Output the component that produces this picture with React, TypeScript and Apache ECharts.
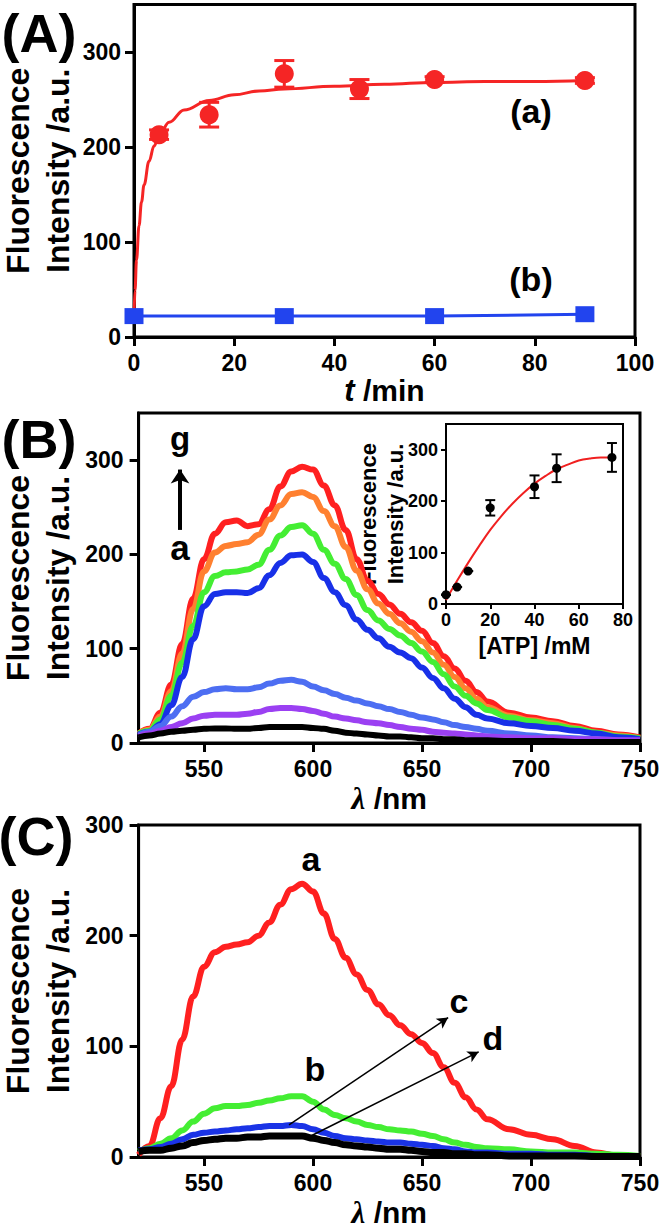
import React, { useEffect, useRef } from "react";
import * as echarts from "echarts";

// ---------- Panel A: kinetics ----------
const timeA = [5, 15, 30, 45, 60, 90];
const intensityA = [213, 234, 277, 261, 271, 270];
const errorA = [5, 13, 14, 10, 3, 3];
const timeB = [0, 30, 60, 90];
const intensityB = [22, 22, 22, 24];
const fitTime = [0, 0.2, 0.5, 1, 1.5, 2, 3, 4, 5, 7, 10, 15, 20, 25, 30, 40, 50, 60, 70, 80, 90];
const fitIntensity = [22, 49, 81, 117, 142, 160, 185, 201, 212, 226, 239, 249, 255, 259, 261, 264, 266, 268, 269, 269, 270];
const ticksY = [0, 100, 200, 300];

// ---------- Panel B / C: spectra ----------
const wavelengths = [520, 525, 530, 535, 540, 545, 550, 555, 560, 565, 570, 575, 580, 585, 590, 595, 600, 605, 610, 615, 620, 625, 630, 635, 640, 645, 650, 655, 660, 665, 670, 675, 680, 690, 700, 710, 720, 730, 740, 750];
const ticksLambda = [550, 600, 650, 700, 750];

const specB_g = [10, 15, 32, 62, 105, 153, 195, 222, 234, 236, 230, 232, 248, 272, 288, 293, 290, 273, 252, 226, 195, 172, 158, 147, 137, 128, 119, 106, 92, 79, 66, 54, 44, 32, 27, 23, 18, 13, 9, 6];
const specB_f = [10, 14, 28, 55, 95, 142, 182, 202, 209, 211, 213, 221, 237, 252, 264, 266, 261, 246, 230, 208, 183, 163, 148, 137, 127, 118, 108, 96, 83, 70, 58, 47, 38, 29, 24, 21, 16, 11, 8, 5];
const specB_e = [10, 13, 25, 50, 85, 124, 160, 177, 181, 182, 184, 189, 205, 220, 229, 231, 222, 205, 190, 174, 157, 141, 130, 121, 114, 106, 97, 86, 73, 60, 50, 42, 35, 27, 23, 19, 15, 11, 7, 5];
const specB_d = [9, 12, 20, 40, 70, 110, 145, 158, 160, 160, 159, 164, 178, 191, 199, 200, 192, 175, 160, 146, 131, 120, 111, 102, 96, 90, 80, 69, 58, 47, 38, 30, 26, 21, 18, 16, 13, 10, 6, 4];
const specB_c = [8, 12, 18, 28, 39, 49, 54, 57, 58, 57, 57, 59, 63, 66, 67, 65, 60, 56, 52, 48, 45, 42, 39, 36, 33, 30, 27, 25, 22, 19, 17, 15, 13, 10, 8, 6, 5, 4, 3, 2];
const specB_b = [7, 10, 13, 17, 21, 26, 29, 30, 30, 30, 31, 33, 36, 37, 37, 36, 34, 31, 28, 26, 24, 22, 21, 19, 17, 15, 14, 12, 11, 10, 9, 8, 7, 6, 5, 5, 4, 4, 3, 3];
const specB_a = [6, 8, 10, 12, 13, 14, 15, 15.5, 15.5, 15, 15, 16, 17, 17, 17, 17, 16, 15, 13, 11, 10, 9, 8, 7, 7, 6, 5, 5, 4, 4, 3, 3, 3, 2, 2, 2, 1, 1, 1, 1];

const specC_a = [2, 10, 35, 64, 106, 145, 172, 185, 190, 192, 194, 200, 212, 228, 242, 247, 240, 220, 197, 180, 165, 151, 138, 128, 119, 111, 103, 94, 81, 67, 54, 43, 34, 25, 20, 16, 10, 4, 1, 0.5];
const specC_b = [5, 8, 12, 17, 24, 32, 39, 44, 46, 46, 47, 49, 51, 53, 55, 55, 50, 43, 38, 35, 32, 29, 27, 25, 24, 23, 21, 19, 16, 13, 11, 9, 8, 7, 5, 4, 4, 3, 2, 1];
const specC_c = [6, 7, 9, 12, 16, 20, 22, 23, 24, 25, 26, 27, 28, 28, 29, 28, 25, 22, 19, 17, 16, 15, 14, 13, 13, 12, 11, 10, 8, 7, 5, 4, 4, 3, 3, 2, 2, 1, 1, 1];
const specC_d = [5, 6, 6, 8, 10, 13, 15, 16, 17, 17, 18, 18, 19, 19, 19, 19, 17, 15, 13, 11, 10, 9, 8, 7, 7, 6, 5, 4, 4, 3, 3, 2, 2, 1, 1, 1, 1, 0.5, 0.5, 0.5];

// ---------- Inset: ATP ----------
const atpConc = [0, 5, 10, 20, 40, 50, 75];
const atpIntensity = [18, 33, 64, 187, 228, 264, 285];
const atpError = [0, 0, 0, 15, 22, 27, 28];
const atpFitX = [0, 5, 10, 15, 20, 25, 30, 35, 40, 45, 50, 55, 60, 65, 70, 75];
const atpFitY = [8, 45, 80, 113, 144, 171, 195, 216, 234, 249, 262, 271, 279, 283, 285, 285];

const FONT = '"Liberation Sans", Arial, sans-serif';
const YTITLE = "Fluorescence\nIntensity /a.u.";

const pairs = (xs: number[], ys: number[]) => xs.map((x, i) => [x, ys[i]]);

function errorBars(xIdx: number, xs: number[], ys: number[], errs: number[], color: string, cap: number, width: number) {
  return {
    type: "custom",
    xAxisIndex: xIdx,
    yAxisIndex: xIdx,
    z: 3,
    data: xs.map((x, i) => [x, ys[i] - errs[i], ys[i] + errs[i]]),
    encode: { x: 0, y: [1, 2] },
    renderItem: (params: any, api: any) => {
      const lo = api.coord([api.value(0), api.value(1)]);
      const hi = api.coord([api.value(0), api.value(2)]);
      const st = { stroke: color, lineWidth: width };
      return {
        type: "group",
        children: [
          { type: "line", shape: { x1: lo[0], y1: lo[1], x2: hi[0], y2: hi[1] }, style: st },
          { type: "line", shape: { x1: lo[0] - cap, y1: lo[1], x2: lo[0] + cap, y2: lo[1] }, style: st },
          { type: "line", shape: { x1: hi[0] - cap, y1: hi[1], x2: hi[0] + cap, y2: hi[1] }, style: st },
        ],
      };
    },
  };
}

function valueAxis(gridIndex: number, min: number, max: number, opts: any) {
  const fs = opts.fontSize ?? 23;
  const lw = opts.lineWidth ?? 3;
  return {
    type: "value",
    gridIndex,
    min,
    max,
    interval: opts.interval,
    splitLine: { show: false },
    axisLine: { show: true, onZero: false, lineStyle: { color: "#000", width: lw } },
    axisTick: { show: true, inside: false, length: opts.tickLen ?? 9, lineStyle: { color: "#000", width: lw }, customValues: opts.ticks },
    axisLabel: {
      show: true,
      color: "#000",
      fontFamily: FONT,
      fontWeight: "bold",
      fontSize: fs,
      margin: opts.margin ?? 14,
      customValues: opts.ticks,
    },
    name: opts.name,
    nameLocation: "middle",
    nameGap: opts.nameGap,
    nameRotate: opts.nameRotate,
    nameMoveOverlap: false,
    nameTextStyle: opts.nameTextStyle,
  };
}

const yNameStyle = (fs: number, lh: number) => ({
  fontFamily: FONT,
  fontWeight: "bold",
  fontSize: fs,
  lineHeight: lh,
  color: "#000",
  align: "center",
});

const xNameStyle = (italic: string) => ({
  fontFamily: FONT,
  fontWeight: "bold",
  fontSize: 30,
  color: "#000",
  rich: {
    i: { fontFamily: italic, fontStyle: "italic", fontWeight: "bold", fontSize: 31, color: "#000" },
  },
});

function spectrum(xIdx: number, ys: number[], color: string, width: number, extra: any = {}) {
  return {
    type: "line",
    xAxisIndex: xIdx,
    yAxisIndex: xIdx,
    data: pairs(wavelengths, ys),
    showSymbol: false,
    smooth: 0.4,
    smoothMonotone: "x",
    lineStyle: { color, width },
    itemStyle: { color },
    ...extra,
  };
}

const arrowLine = (from: number[], to: number[], width: number, size: any) => ({
  silent: true,
  symbol: ["none", "arrow"],
  symbolSize: size,
  label: { show: false },
  lineStyle: { color: "#000", width, type: "solid" },
  itemStyle: { color: "#000" },
  emphasis: { disabled: true },
  data: [[{ coord: from }, { coord: to }]],
});

const text = (t: string, x: number, y: number, fs: number) => ({
  type: "text",
  x,
  y,
  z: 100,
  style: { text: t, fontFamily: FONT, fontWeight: "bold", fontSize: fs, fill: "#000", align: "center", verticalAlign: "middle" },
});

export default function App() {
  const ref = useRef<HTMLDivElement>(null);
  useEffect(() => {
    if (!ref.current) return;
    const chart = echarts.init(ref.current, undefined, { renderer: "svg" });
    const gridStyle = {
      show: true,
      borderColor: "#000",
      borderWidth: 3,
      backgroundColor: "transparent",
      containLabel: false,
      outerBoundsMode: "none",
    };
    const option: any = {
      animation: false,
      backgroundColor: "#fff",
      grid: [
        { ...gridStyle, left: 134, top: 4.5, width: 501, height: 332.5 },
        { ...gridStyle, left: 138.6, top: 413, width: 501.4, height: 330 },
        { ...gridStyle, borderWidth: 2, left: 446, top: 424, width: 177, height: 180 },
        { ...gridStyle, left: 138.6, top: 825, width: 501.4, height: 332 },
      ],
      xAxis: [
        valueAxis(0, 0, 100, { interval: 20, name: "{i|t} /min", nameGap: 38, nameTextStyle: xNameStyle(FONT) }),
        valueAxis(1, 520, 750, { ticks: ticksLambda, name: "{i|λ} /nm", nameGap: 40, nameTextStyle: xNameStyle('"Liberation Serif", serif') }),
        valueAxis(2, 0, 80, { interval: 20, fontSize: 18, lineWidth: 2, tickLen: 5, margin: 7, name: "[ATP] /mM", nameGap: 30, nameTextStyle: { fontFamily: FONT, fontWeight: "bold", fontSize: 23, color: "#000" } }),
        valueAxis(3, 520, 750, { ticks: ticksLambda, name: "{i|λ} /nm", nameGap: 40, nameTextStyle: xNameStyle('"Liberation Serif", serif') }),
      ],
      yAxis: [
        valueAxis(0, 0, 350, { ticks: ticksY, margin: 13, name: YTITLE, nameRotate: 90, nameGap: 56, nameTextStyle: yNameStyle(32, 40) }),
        valueAxis(1, 0, 350, { ticks: ticksY, margin: 15, name: YTITLE, nameRotate: 90, nameGap: 61, nameTextStyle: yNameStyle(32, 40) }),
        valueAxis(2, 0, 350, { ticks: ticksY, fontSize: 18, lineWidth: 2, tickLen: 5, margin: 8, name: YTITLE, nameRotate: 90, nameGap: 37, nameTextStyle: yNameStyle(22, 27) }),
        valueAxis(3, 0, 300, { interval: 100, margin: 15, name: YTITLE, nameRotate: 90, nameGap: 61, nameTextStyle: yNameStyle(32, 40) }),
      ],
      series: [
        // Panel A
        {
          type: "line",
          xAxisIndex: 0,
          yAxisIndex: 0,
          data: pairs(fitTime, fitIntensity),
          showSymbol: false,
          smooth: 0.4,
          smoothMonotone: "x",
          lineStyle: { color: "#f52525", width: 3 },
          itemStyle: { color: "#f52525" },
        },
        errorBars(0, timeA, intensityA, errorA, "#f52525", 10, 3),
        {
          type: "scatter",
          xAxisIndex: 0,
          yAxisIndex: 0,
          data: pairs(timeA, intensityA),
          symbol: "circle",
          symbolSize: 19,
          itemStyle: { color: "#f52525", opacity: 1 },
          z: 4,
        },
        {
          type: "line",
          xAxisIndex: 0,
          yAxisIndex: 0,
          data: pairs(timeB, intensityB),
          symbol: "rect",
          symbolSize: [19, 16],
          showSymbol: true,
          lineStyle: { color: "#2244ee", width: 3 },
          itemStyle: { color: "#2244ee" },
          z: 5,
        },
        // Panel B
        spectrum(1, specB_g, "#ff2020", 6),
        spectrum(1, specB_f, "#ff8030", 6),
        spectrum(1, specB_e, "#44ee33", 6),
        spectrum(1, specB_d, "#1830e8", 6),
        spectrum(1, specB_c, "#4d6ef2", 6),
        spectrum(1, specB_b, "#9b40f2", 6),
        spectrum(1, specB_a, "#000000", 6, { markLine: arrowLine([539, 226], [539, 290], 4, [14, 14]) }),
        // Inset
        {
          type: "line",
          xAxisIndex: 2,
          yAxisIndex: 2,
          data: pairs(atpFitX, atpFitY),
          showSymbol: false,
          smooth: 0.4,
          lineStyle: { color: "#f02020", width: 2 },
          itemStyle: { color: "#f02020" },
        },
        errorBars(2, atpConc, atpIntensity, atpError, "#000", 5, 2),
        {
          type: "scatter",
          xAxisIndex: 2,
          yAxisIndex: 2,
          data: pairs(atpConc, atpIntensity),
          symbolSize: 9,
          itemStyle: { color: "#000", opacity: 1 },
          z: 4,
        },
        // Panel C
        spectrum(3, specC_a, "#ff2020", 6),
        spectrum(3, specC_b, "#44ee33", 6),
        spectrum(3, specC_c, "#1a33e6", 6),
        spectrum(3, specC_d, "#000000", 7, {
          markLine: {
            ...arrowLine([589, 29], [662, 126], 1.5, [9, 11]),
            data: [
              [{ coord: [589, 29] }, { coord: [662, 126] }],
              [{ coord: [599, 19] }, { coord: [676, 95] }],
            ],
          },
        }),
      ],
      graphic: [
        text("(A)", 39, 33, 54),
        text("(B)", 39, 439, 54),
        text("(C)", 36, 836, 54),
        text("(a)", 531, 111, 34),
        text("(b)", 531, 279, 34),
        text("g", 180, 438, 33),
        text("a", 180, 547, 35),
        text("a", 311, 859, 34),
        text("b", 315, 1069, 34),
        text("c", 459, 1001, 34),
        text("d", 493, 1038, 34),
      ],
    };
    chart.setOption(option);
    return () => chart.dispose();
  }, []);
  return <div ref={ref} style={{ position: "absolute", left: 0, top: 0, width: 660, height: 1229 }} />;
}
